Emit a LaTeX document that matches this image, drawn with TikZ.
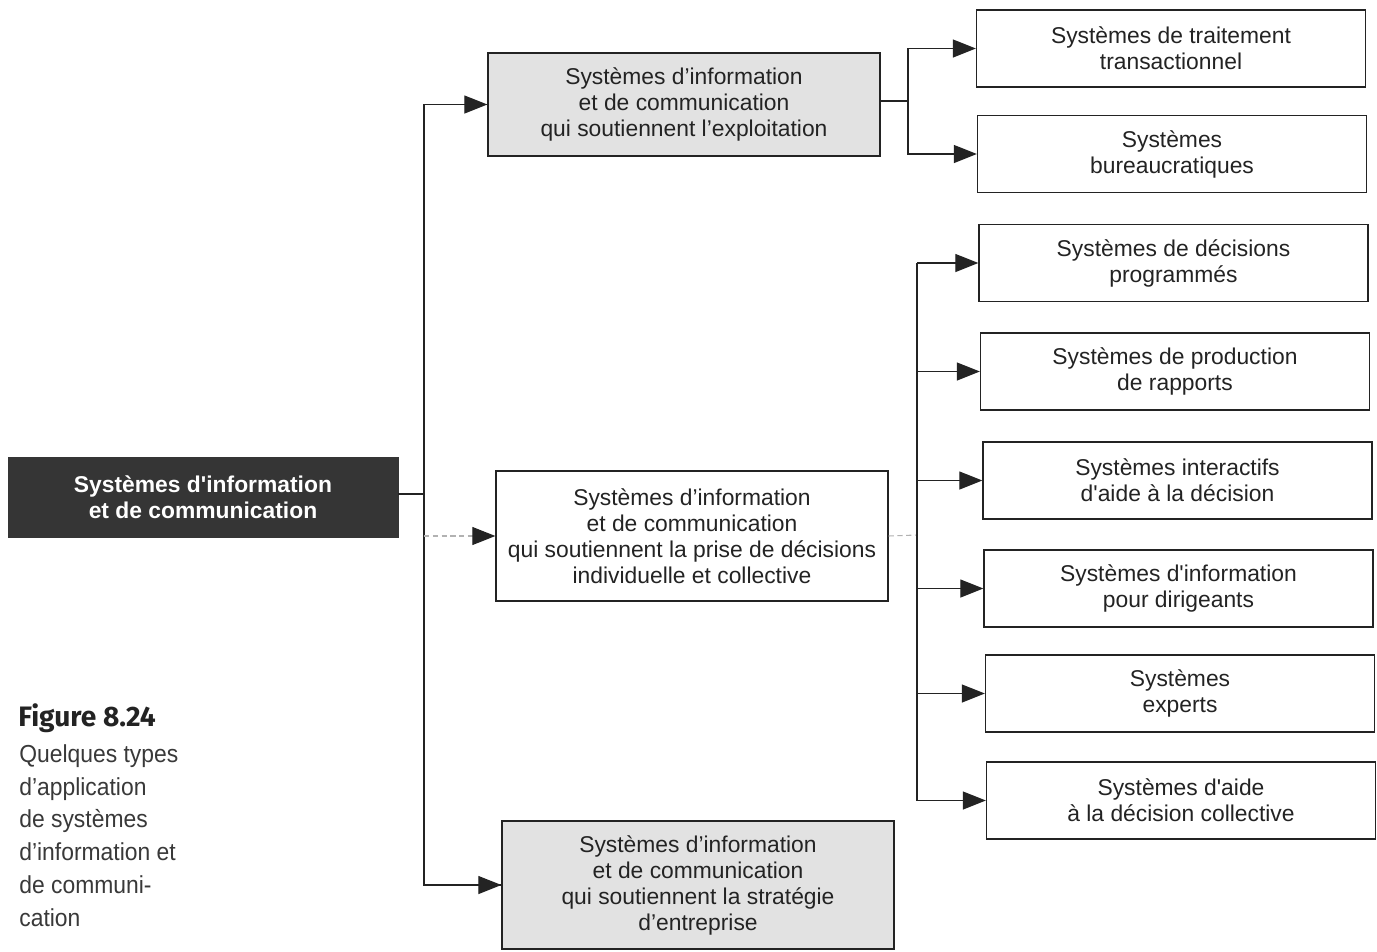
\documentclass[tikz,border=0pt]{standalone}
\usepackage{fontspec}
\setmainfont{Liberation Sans}
\newfontfamily\capfont[FakeStretch=0.93]{Liberation Sans}
\newfontfamily\figfont{Fira Sans}
\usetikzlibrary{arrows.meta}
\definecolor{ink}{HTML}{232323}
\definecolor{darkbox}{HTML}{353535}
\definecolor{shade}{HTML}{E2E2E2}
\newcommand{\sq}{\textquotesingle}
\begin{document}
\begin{tikzpicture}[x=0.02cm,y=-0.02cm,
  every node/.style={font=\fontsize{13}{14.8}\selectfont, text=ink, align=center, inner sep=0pt},
  box/.style={draw=ink, line width=0.8pt, minimum width=7.78cm, minimum height=1.54cm},
  midbox/.style={draw=ink, line width=0.8pt, minimum width=7.84cm},
  link/.style={draw=ink, line width=0.7pt},
  arr/.style={link, -{Triangle[length=0.46cm,width=0.36cm]}},
  faint/.style={draw=gray!60, line width=0.6pt, densely dashed},
  faintarr/.style={faint, -{Triangle[length=0.46cm,width=0.36cm,color=ink,fill=ink]}}
]
% page
\path[fill=white] (0,0) rectangle (1377,951);
\useasboundingbox (0,0) rectangle (1377,951);

% root box
\node[fill=darkbox, draw=darkbox, minimum width=7.8cm, minimum height=1.6cm,
      text=white, font=\fontsize{13}{14.8}\selectfont\bfseries] (root) at (203,497)
  {Systèmes d\sq information\\et de communication};

% three families
\node[midbox, fill=shade, minimum height=2.06cm] (ops) at (684,104.5)
  {Systèmes d’information\\et de communication\\qui soutiennent l’exploitation};
\node[midbox, fill=white, minimum height=2.6cm] (dec) at (692,536)
  {Systèmes d’information\\et de communication\\qui soutiennent la prise de décisions\\individuelle et collective};
\node[midbox, fill=shade, minimum height=2.56cm] (strat) at (698,885)
  {Systèmes d’information\\et de communication\\qui soutiennent la stratégie\\d’entreprise};

% applications
\node[box] (tps)  at (1171,48.5)  {Systèmes de traitement\\transactionnel};
\node[box] (oas)  at (1172,154)   {Systèmes\\bureaucratiques};
\node[box] (pds)  at (1173.5,263) {Systèmes de décisions\\programmés};
\node[box] (mrs)  at (1175,371.5) {Systèmes de production\\de rapports};
\node[box] (dss)  at (1177.5,480.5){Systèmes interactifs\\d\sq aide à la décision};
\node[box] (eis)  at (1178.5,588.5){Systèmes d\sq information\\pour dirigeants};
\node[box] (es)   at (1180,693.5) {Systèmes\\experts};
\node[box] (gdss) at (1181,800.5) {Systèmes d\sq aide\\à la décision collective};

% branching points
\coordinate (jroot) at (424,494);
\coordinate (jops)  at (908,101);
\coordinate (jdec)  at (917,535);

% root to families
\draw[link] (root.east |- jroot) -- (jroot);
\draw[link] (jroot) |- (ops.west);
\draw[link] (jroot) |- (strat.west);
\draw[arr] (jroot |- ops.west) -- (ops.west);
\draw[arr] (jroot |- strat.west) -- (strat.west);
\draw[faintarr] (jroot |- dec.west) -- (dec.west);

% operations branch
\draw[link] (ops.east |- jops) -- (jops);
\draw[arr] (jops) |- (tps.west);
\draw[arr] (jops) |- (oas.west);

% decision branch
\draw[faint] (dec.east) -- (jdec);
\draw[link] (jdec |- pds.west) -- (jdec |- gdss.west);
\foreach \n in {pds,mrs,dss,eis,es,gdss}
  \draw[arr] (jdec |- \n.west) -- (\n.west);

% caption
\node[anchor=base west, font=\figfont\bfseries\fontsize{16}{18}\selectfont, text=ink] (fig) at (18,726) {Figure 8.24};
\node[anchor=north west, align=left, text=ink!90, font=\capfont\fontsize{14}{18.7}\selectfont] (cap) at (19,744)
  {Quelques types\\d’application\\de systèmes\\d’information et\\de communi-\\cation};
\end{tikzpicture}
\end{document}
